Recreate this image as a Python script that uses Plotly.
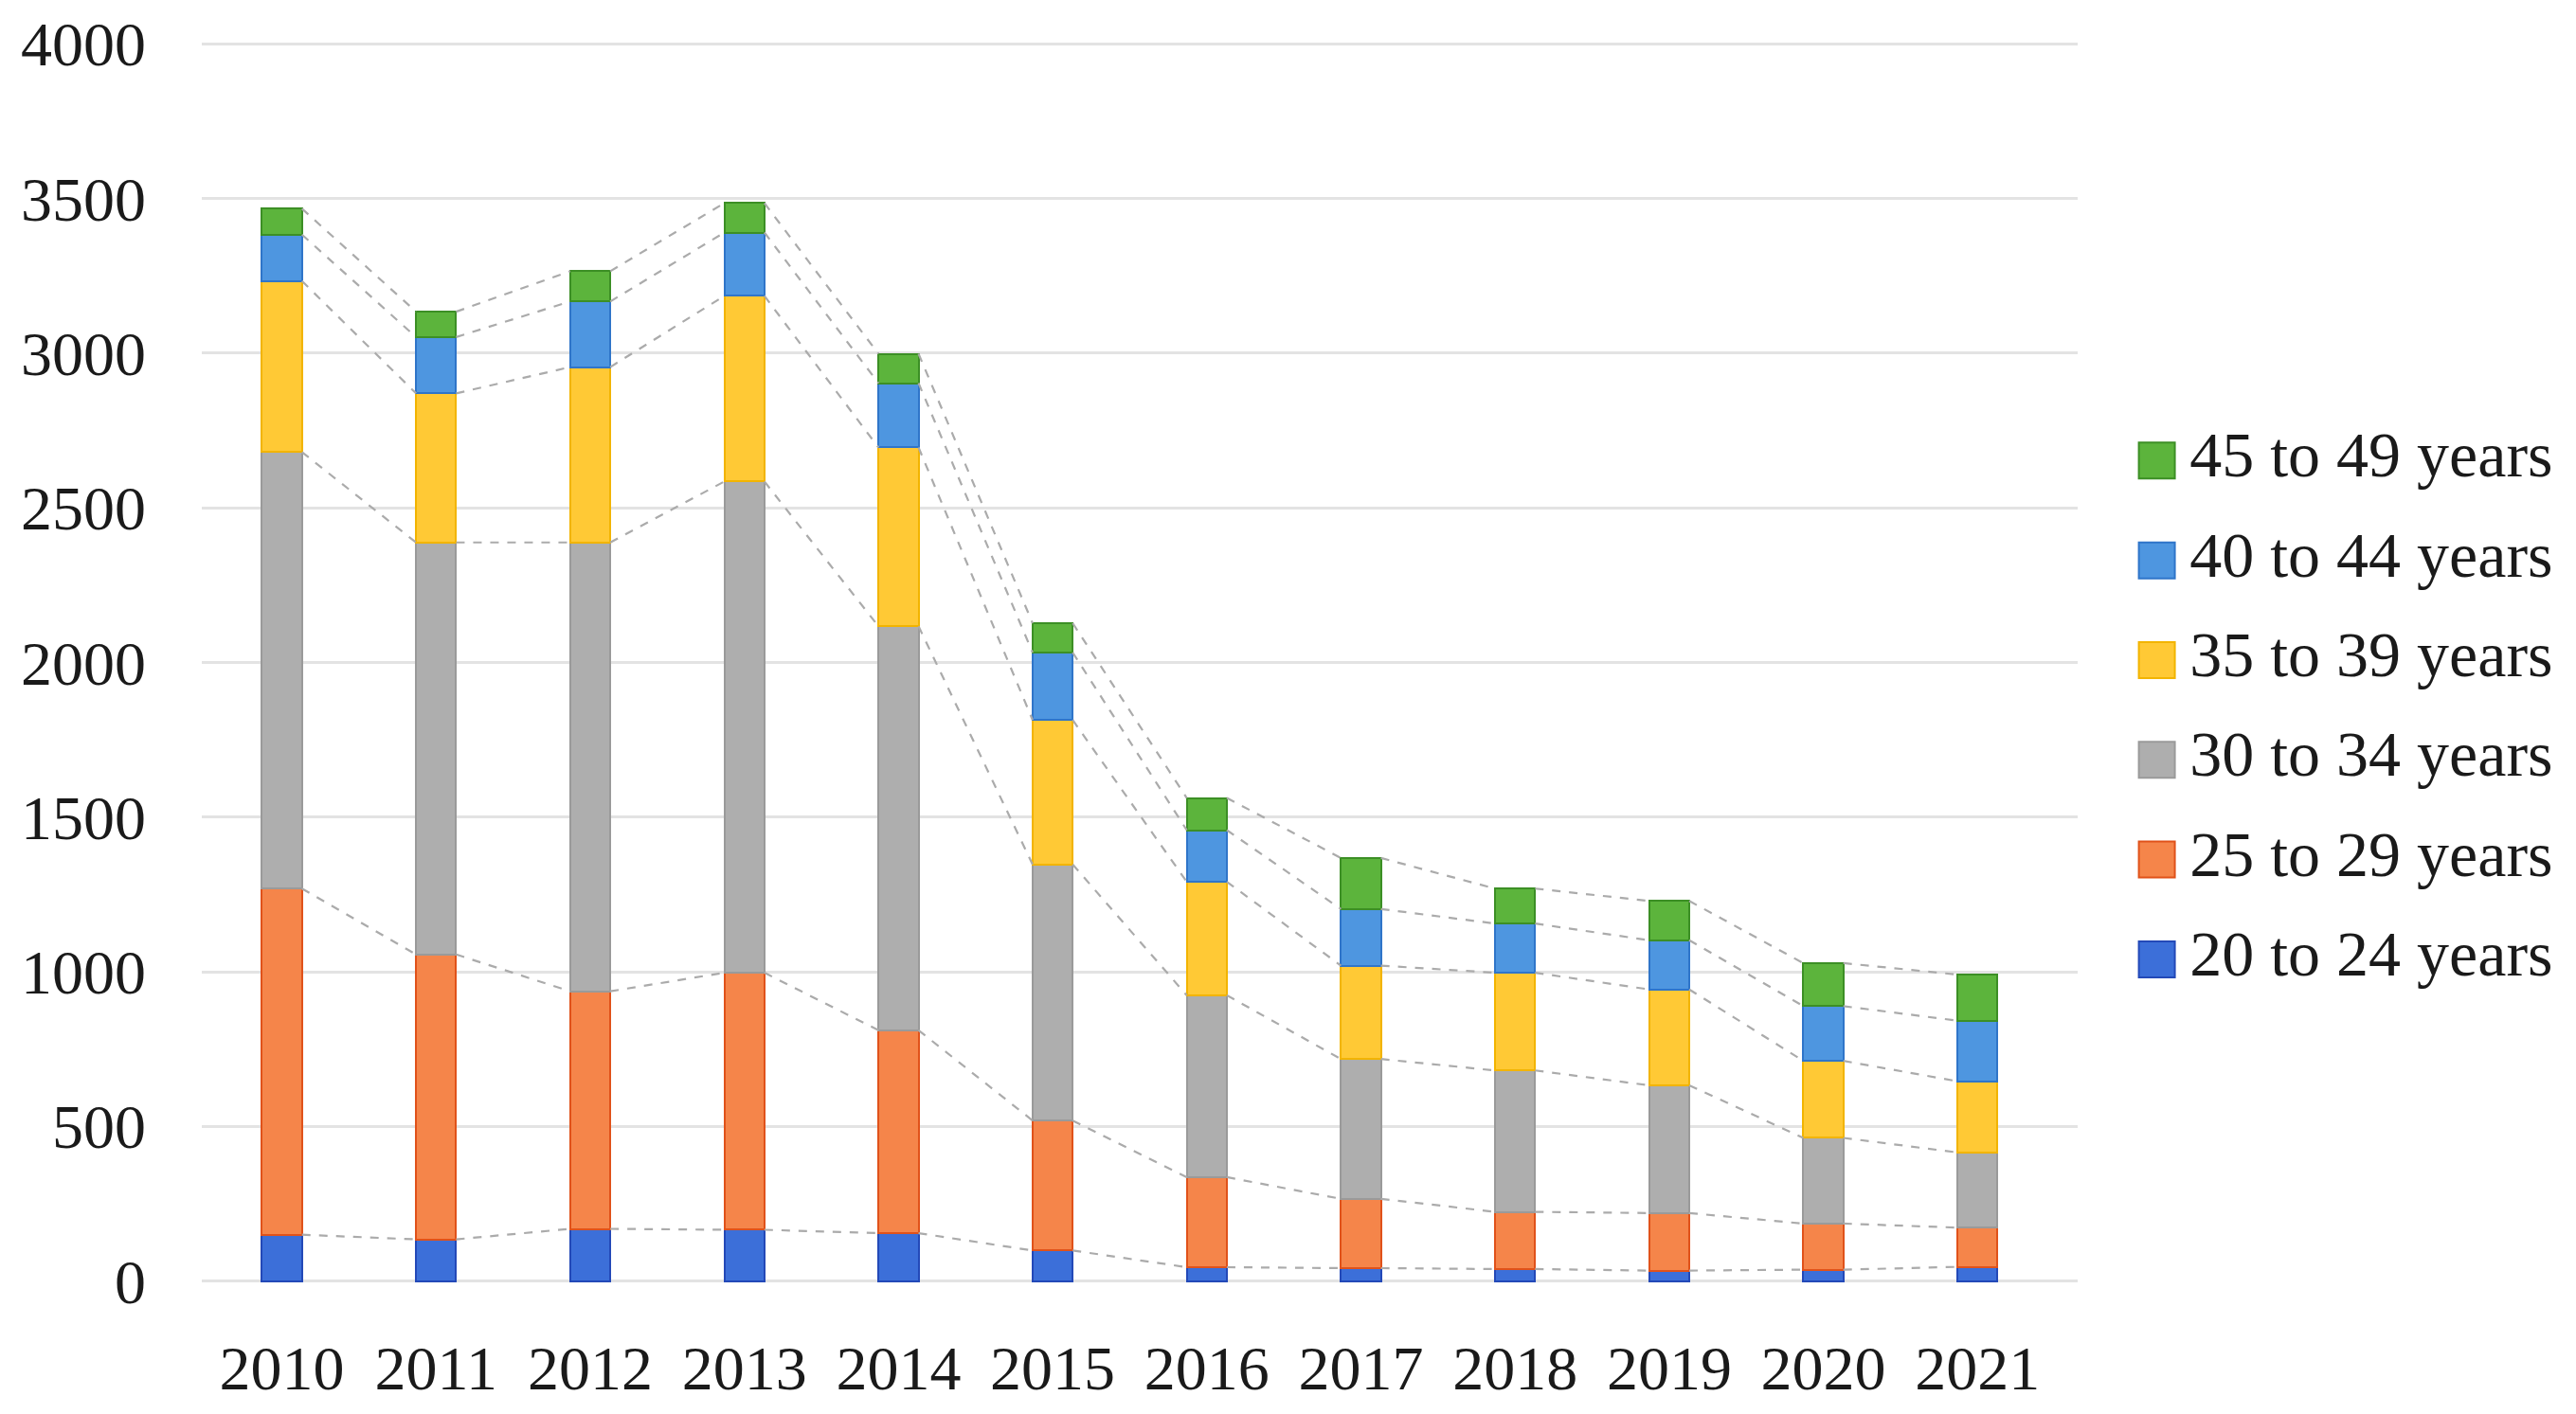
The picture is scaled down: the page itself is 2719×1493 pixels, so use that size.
import plotly.graph_objects as go

years = ["2010", "2011", "2012", "2013", "2014", "2015", "2016", "2017", "2018", "2019", "2020", "2021"]
age_20_24 = [150, 135, 169, 166, 155, 99, 45, 42, 39, 34, 37, 46]
age_25_29 = [1119, 921, 768, 831, 656, 420, 291, 224, 185, 186, 149, 127]
age_30_34 = [1411, 1332, 1451, 1588, 1306, 828, 588, 452, 457, 413, 277, 243]
age_35_39 = [553, 482, 567, 600, 578, 467, 367, 302, 316, 310, 249, 230]
age_40_44 = [150, 182, 212, 205, 208, 218, 167, 183, 159, 159, 177, 196]
age_45_49 = [84, 82, 98, 95, 95, 95, 104, 165, 113, 127, 139, 149]

series_names = ["20 to 24 years", "25 to 29 years", "30 to 34 years",
                "35 to 39 years", "40 to 44 years", "45 to 49 years"]
series_values = [age_20_24, age_25_29, age_30_34, age_35_39, age_40_44, age_45_49]
fill_colors = ["#3C6FD9", "#F5854A", "#AEAEAE", "#FFC935", "#4E96E0", "#5CB43C"]
edge_colors = ["#2349B8", "#E0521A", "#9A9A9A", "#F2B400", "#2F75C9", "#3C8F25"]
tick_vals_y = [0, 500, 1000, 1500, 2000, 2500, 3000, 3500, 4000]

FONT = "Liberation Serif"
FSIZE = 66
bar_w = 0.26
xs = list(range(len(years)))

fig = go.Figure()

# dashed series lines connecting cumulative tops
cum = [0] * len(years)
for vals in series_values:
    cum = [c + v for c, v in zip(cum, vals)]
    lx, ly = [], []
    for i in range(len(years) - 1):
        lx += [xs[i] + bar_w / 2, xs[i + 1] - bar_w / 2, None]
        ly += [cum[i], cum[i + 1], None]
    fig.add_trace(go.Scatter(x=lx, y=ly, mode="lines", showlegend=False,
                             hoverinfo="skip",
                             line=dict(color="#ABABAB", width=2.2, dash="dash")))

for name, vals, fc, ec in zip(series_names, series_values, fill_colors, edge_colors):
    fig.add_trace(go.Bar(x=xs, y=vals, name=name, width=bar_w, showlegend=False,
                         marker=dict(color=fc, line=dict(color=ec, width=2))))

# legend drawn on its own small axes (square keys + labels)
idx = list(range(len(series_names)))
fig.add_trace(go.Scatter(x=[0] * len(idx), y=idx, mode="markers", xaxis="x2", yaxis="y2",
                         showlegend=False, hoverinfo="skip",
                         marker=dict(symbol="square", size=38, color=fill_colors,
                                     line=dict(color=edge_colors, width=2))))
fig.add_trace(go.Scatter(x=[0.62] * len(idx), y=idx, mode="text", xaxis="x2", yaxis="y2",
                         text=series_names, textposition="middle right",
                         showlegend=False, hoverinfo="skip",
                         textfont=dict(family=FONT, size=68, color="#1a1a1a")))

fig.update_layout(
    barmode="stack",
    width=2719, height=1493,
    paper_bgcolor="white", plot_bgcolor="white",
    margin=dict(l=205, r=0, t=35, b=147),
    font=dict(family=FONT, size=FSIZE, color="#1a1a1a"),
    showlegend=False,
    xaxis=dict(domain=[0, 0.7876], range=[-0.52, 11.65], tickmode="array",
               tickvals=xs, ticktext=years,
               showgrid=False, zeroline=False, showline=False,
               ticklabelstandoff=46, tickfont=dict(family=FONT, size=FSIZE)),
    yaxis=dict(range=[-4, 4010], tickmode="array", tickvals=tick_vals_y,
               showgrid=True, gridcolor="#E3E3E3", gridwidth=2.5,
               zeroline=False, showline=False, ticklabelstandoff=58,
               tickfont=dict(family=FONT, size=FSIZE)),
    xaxis2=dict(domain=[0.7986, 1.0], range=[-1, 8.06], anchor="y2",
                visible=False, fixedrange=True),
    yaxis2=dict(domain=[0.220, 0.702], range=[-0.5, 5.5], anchor="x2",
                visible=False, fixedrange=True),
)

fig.write_html("out.html")
